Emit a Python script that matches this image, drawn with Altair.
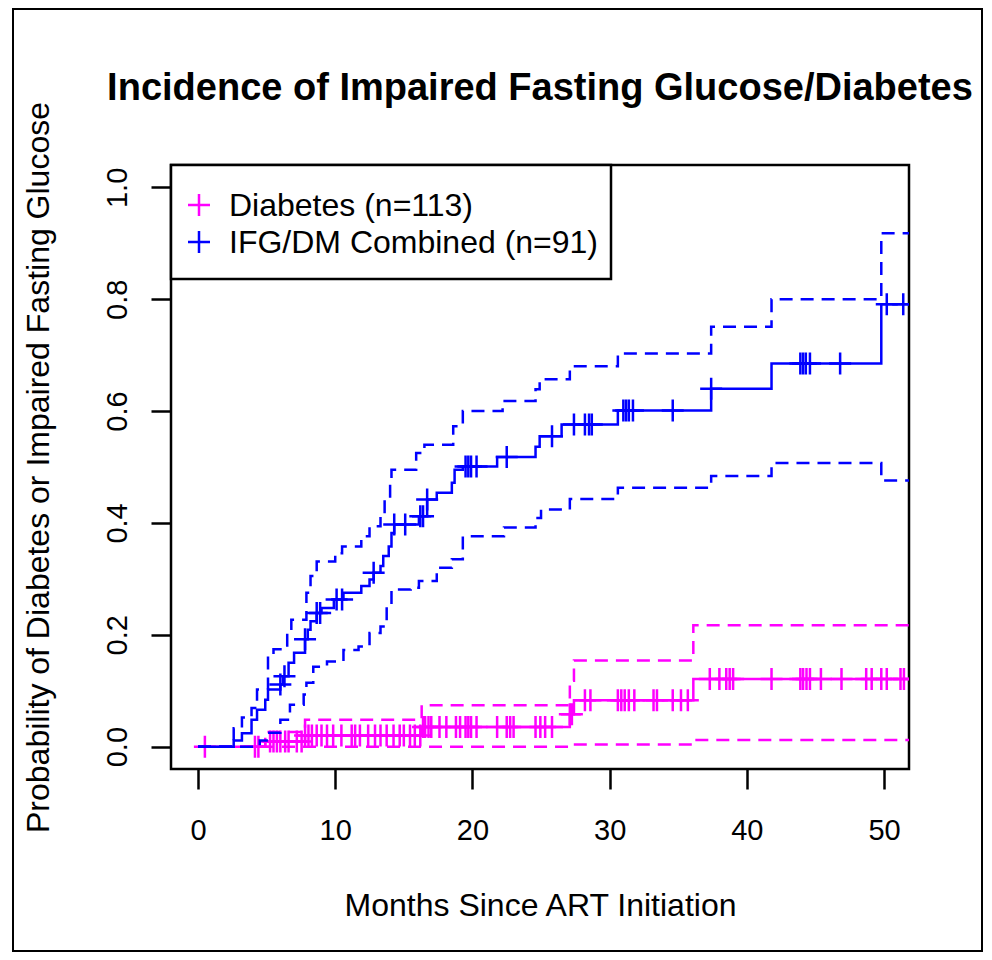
import altair as alt
import numpy as np
import pandas as pd

# ---------------- data ----------------
series_labels = ["Diabetes (n=113)", "IFG/DM Combined (n=91)"]
series_colors = ["#FF00FF", "#0000FF"]

# Diabetes (magenta): step times / cumulative incidence
dm_time = [0, 4.9, 7.8, 16.3, 27.1, 27.4, 36.1, 52]
dm_est = [0, 0.009, 0.020, 0.035, 0.058, 0.083, 0.121, 0.121]
dm_up_time = [0, 4.9, 7.8, 16.3, 27.1, 27.4, 36.1, 52]
dm_up = [0, 0.026, 0.048, 0.074, 0.118, 0.154, 0.217, 0.217]
dm_lo_time = [0, 27.1, 36.1, 52]
dm_lo = [0, 0.004, 0.012, 0.012]
dm_censor = [0.5, 4.15, 4.4, 5.25, 5.5, 5.75, 6.0, 6.35, 6.6, 7.2, 7.55, 7.8, 8.05,
             8.3, 8.65, 9.0, 9.4, 9.85, 10.45, 11.2, 11.45, 11.8, 12.4, 12.9, 13.3,
             13.75, 14.25, 14.7, 15.0, 15.45, 15.8, 16.2, 16.4, 16.55, 16.8, 17.0,
             17.6, 18.1, 18.8, 19.1, 19.5, 19.7, 19.9, 20.3, 21.8, 22.5, 22.75, 23.0,
             24.6, 24.95, 25.3, 25.8, 27.1, 27.25, 28.2, 28.6, 30.6, 30.85, 31.1,
             31.4, 31.8, 33.2, 33.45, 34.6, 35.2, 35.7, 37.3, 38.0, 38.5, 38.75, 39.0,
             41.8, 43.9, 44.1, 44.35, 44.6, 45.4, 46.9, 48.7, 49.1, 49.8, 50.2, 51.2,
             51.45]

# IFG/DM combined (blue)
ifg_time = [0, 2.6, 3.2, 3.9, 4.3, 4.9, 5.1, 6.0, 6.2, 6.6, 7.0, 7.8, 8.0, 8.2, 8.65,
            9.0, 9.9, 10.6, 11.9, 12.5, 12.8, 13.3, 13.5, 13.9, 14.1, 14.3, 16.1,
            16.7, 17.4, 18.5, 18.7, 19.3, 21.8, 24.6, 24.9, 26.5, 30.6, 37.4, 41.8,
            49.8, 52]
ifg_est = [0, 0.011, 0.024, 0.048, 0.066, 0.084, 0.102, 0.111, 0.126, 0.150, 0.168,
           0.192, 0.209, 0.224, 0.239, 0.248, 0.263, 0.275, 0.287, 0.299, 0.311,
           0.323, 0.341, 0.358, 0.382, 0.397, 0.412, 0.442, 0.454, 0.472, 0.495,
           0.501, 0.518, 0.536, 0.555, 0.576, 0.601, 0.640, 0.685, 0.791, 0.791]
ifg_up_time = [0, 2.6, 3.2, 3.9, 4.3, 5.1, 5.5, 6.5, 6.8, 7.9, 8.2, 8.65, 10.0, 10.5,
               11.9, 12.5, 13.3, 13.6, 14.0, 14.1, 15.9, 16.5, 18.6, 19.3, 22.2,
               24.6, 24.9, 27.1, 30.6, 37.4, 41.8, 49.8, 52]
ifg_up = [0, 0.033, 0.052, 0.069, 0.102, 0.162, 0.174, 0.203, 0.227, 0.275, 0.305,
          0.331, 0.346, 0.358, 0.376, 0.394, 0.415, 0.442, 0.472, 0.495, 0.525,
          0.540, 0.573, 0.600, 0.618, 0.639, 0.657, 0.680, 0.703, 0.751, 0.800,
          0.918, 0.918]
ifg_lo_time = [0, 4.5, 5.1, 6.0, 6.7, 7.7, 7.9, 8.4, 9.4, 10.6, 11.7, 12.5, 13.3,
               13.75, 14.1, 15.5, 16.1, 17.4, 18.5, 19.3, 22.3, 24.6, 25.0, 27.1,
               30.6, 37.4, 41.8, 49.8, 52]
ifg_lo = [0, 0.011, 0.025, 0.048, 0.075, 0.093, 0.114, 0.143, 0.152, 0.173, 0.179,
          0.203, 0.215, 0.251, 0.281, 0.284, 0.296, 0.320, 0.335, 0.376, 0.392,
          0.409, 0.424, 0.443, 0.463, 0.484, 0.507, 0.476, 0.476]
ifg_censor = [6.0, 6.3, 7.8, 8.65, 8.9, 10.1, 10.5, 12.8, 14.3, 15.1, 16.2, 16.4,
              16.7, 19.5, 19.7, 19.9, 20.3, 22.5, 25.8, 27.4, 28.2, 28.5, 28.7, 31.0,
              31.2, 31.4, 31.7, 34.6, 37.4, 43.9, 44.1, 44.3, 44.6, 46.8, 50.2, 51.4]

x_ticks = [0, 10, 20, 30, 40, 50]
y_ticks = [0.0, 0.2, 0.4, 0.6, 0.8, 1.0]
chart_title = "Incidence of Impaired Fasting Glucose/Diabetes"
x_title = "Months Since ART Initiation"
y_title = "Probability of Diabetes or Impaired Fasting Glucose"

# ---------------- styling ----------------
FONT = "Liberation Sans"
W, H = 738, 604
CROSS = "M-1,0L1,0M0,-1L0,1"
LW = 2.5

x_axis = alt.Axis(values=x_ticks, format="d", title=x_title, grid=False, domain=False,
                  tickSize=20, tickWidth=2.5, tickColor="black",
                  labelFont=FONT, labelFontSize=29, labelColor="black",
                  labelBaseline="alphabetic", labelPadding=50, labelFlush=False,
                  labelOverlap=False, labelBound=False,
                  titleFont=FONT, titleFontSize=32, titleFontWeight="normal",
                  titleColor="black", titleX=369, titleY=146,
                  titleBaseline="alphabetic", titleAlign="center")
y_axis = alt.Axis(values=y_ticks, format=".1f", title=y_title, grid=False, domain=False,
                  tickSize=20, tickWidth=2.5, tickColor="black",
                  labelFont=FONT, labelFontSize=29, labelColor="black",
                  labelAngle=270, labelAlign="center", labelBaseline="alphabetic",
                  labelPadding=25, labelFlush=False, labelOverlap=False,
                  labelBound=False,
                  titleFont=FONT, titleFontSize=32, titleFontWeight="normal",
                  titleColor="black", titleAngle=270, titleX=-123, titleY=302,
                  titleBaseline="alphabetic", titleAlign="center")

X = alt.X("t:Q", scale=alt.Scale(domain=[-1.97, 51.82], nice=False, zero=False),
          axis=x_axis)
Y = alt.Y("p:Q", scale=alt.Scale(domain=[-0.04, 1.04], nice=False, zero=False),
          axis=y_axis)


def curve(t, p, color, dashed):
    kw = dict(interpolate="step-after", clip=True, strokeWidth=LW, color=color)
    if dashed:
        kw["strokeDash"] = [13, 8]
    df = pd.DataFrame({"t": t, "p": p})
    return alt.Chart(df).mark_line(**kw).encode(x=X, y=Y)


def crosses(times, t_steps, p_steps, color):
    idx = np.searchsorted(np.array(t_steps), np.array(times), side="right") - 1
    df = pd.DataFrame({"t": times, "p": np.array(p_steps)[idx]})
    return alt.Chart(df).mark_point(shape=CROSS, size=484, filled=False,
                                    strokeWidth=LW, opacity=1, color=color,
                                    clip=True).encode(x=X, y=Y)


one = pd.DataFrame({"a": [0]})

border = alt.Chart(one).mark_rect(fillOpacity=0, stroke="black", strokeWidth=2).encode(
    x=alt.value(-158), x2=alt.value(811), y=alt.value(-156), y2=alt.value(786))

mag, blu = series_colors
layers = [
    border,
    curve(dm_time, dm_est, mag, False),
    curve(dm_up_time, dm_up, mag, True),
    curve(dm_lo_time, dm_lo, mag, True),
    crosses(dm_censor, dm_time, dm_est, mag),
    curve(ifg_time, ifg_est, blu, False),
    curve(ifg_up_time, ifg_up, blu, True),
    curve(ifg_lo_time, ifg_lo, blu, True),
    crosses(ifg_censor, ifg_time, ifg_est, blu),
]

# legend box
legend_box = alt.Chart(one).mark_rect(fill="white", stroke="black", strokeWidth=2.5).encode(
    x=alt.value(0), x2=alt.value(440), y=alt.value(0), y2=alt.value(114))
layers.append(legend_box)
for i, (lab, col) in enumerate(zip(series_labels, series_colors)):
    ldf = pd.DataFrame({"label": [lab]})
    cy = 40 + 37 * i
    layers.append(alt.Chart(ldf).mark_point(shape=CROSS, size=484, filled=False,
                                            strokeWidth=LW, opacity=1, color=col)
                  .encode(x=alt.value(28), y=alt.value(cy)))
    layers.append(alt.Chart(ldf).mark_text(align="left", baseline="alphabetic",
                                           font=FONT, fontSize=32, color="black")
                  .encode(x=alt.value(58), y=alt.value(cy + 11), text="label:N"))

tdf = pd.DataFrame({"label": [chart_title]})
layers.append(alt.Chart(tdf).mark_text(align="center", baseline="alphabetic", font=FONT,
                                       fontSize=38, fontWeight="bold", color="black")
              .encode(x=alt.value(W / 2), y=alt.value(-65), text="label:N"))

chart = alt.layer(*layers).properties(
    width=W, height=H,
    autosize=alt.AutoSizeParams(type="none"),
    padding={"left": 163, "top": 157, "right": 75, "bottom": 183},
    background="white",
).configure_view(stroke="black", strokeWidth=2.5)

chart.save("out.html", embed_options={"renderer": "svg", "actions": False})
